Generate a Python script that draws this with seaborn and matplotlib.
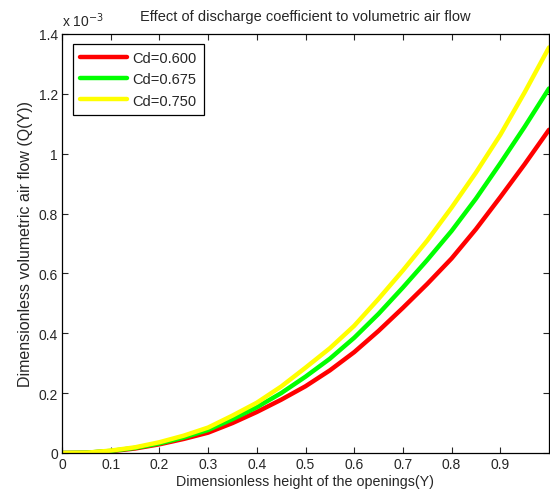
import numpy as np
import pandas as pd
import matplotlib
matplotlib.use("Agg")
import matplotlib.pyplot as plt
import seaborn as sns

# values, Q in units of 1e-3
height_y = [0, 0.05, 0.1, 0.15, 0.2, 0.25, 0.3, 0.35, 0.4, 0.45, 0.5,
            0.55, 0.6, 0.65, 0.7, 0.75, 0.8, 0.85, 0.9, 0.95, 1.0]
q_cd_600 = [0, 0.001, 0.006, 0.015, 0.029, 0.047, 0.068, 0.100, 0.137, 0.178, 0.223,
            0.276, 0.337, 0.408, 0.485, 0.565, 0.650, 0.748, 0.855, 0.965, 1.080]
q_cd_675 = [0, 0.001, 0.007, 0.017, 0.032, 0.052, 0.077, 0.113, 0.153, 0.200, 0.255,
            0.315, 0.385, 0.465, 0.553, 0.645, 0.742, 0.850, 0.968, 1.090, 1.218]
q_cd_750 = [0, 0.001, 0.008, 0.019, 0.036, 0.058, 0.085, 0.125, 0.168, 0.222, 0.285,
            0.350, 0.425, 0.515, 0.610, 0.710, 0.820, 0.937, 1.063, 1.205, 1.355]
series_names = ["Cd=0.600", "Cd=0.675", "Cd=0.750"]
x_ticks = [0, 0.1, 0.2, 0.3, 0.4, 0.5, 0.6, 0.7, 0.8, 0.9]
x_tick_labels = ["0", "0.1", "0.2", "0.3", "0.4", "0.5", "0.6", "0.7", "0.8", "0.9"]
y_ticks = [0, 0.2, 0.4, 0.6, 0.8, 1.0, 1.2, 1.4]
y_tick_labels = ["0", "0.2", "0.4", "0.6", "0.8", "1", "1.2", "1.4"]

df = pd.DataFrame({
    "Y": height_y * 3,
    "Q": q_cd_600 + q_cd_675 + q_cd_750,
    "Cd": np.repeat(series_names, len(height_y)),
})

sns.set_style("white")
plt.rcParams["font.family"] = ["Liberation Sans", "DejaVu Sans"]

fig = plt.figure(figsize=(5.5, 5.02), dpi=100)
ax = fig.add_axes([62 / 550, 48 / 502, 487 / 550, 419 / 502])

sns.lineplot(data=df, x="Y", y="Q", hue="Cd", ax=ax, linewidth=3.2,
             palette=["#ff0000", "#00ff00", "#ffff00"], legend=True)

ax.set_xlim(0, 1)
ax.set_ylim(0, 1.4)
ax.set_xticks(x_ticks)
ax.set_xticklabels(x_tick_labels, fontsize=10)
ax.set_yticks(y_ticks)
ax.set_yticklabels(y_tick_labels, fontsize=10)
ax.tick_params(direction="in", length=4, width=0.8, top=True, right=True,
               bottom=True, left=True, pad=3)
for s in ax.spines.values():
    s.set_color("black")
    s.set_linewidth(0.9)

ax.set_xlabel("Dimensionless height of the openings(Y)", fontsize=10.3, labelpad=2)
ax.set_ylabel("Dimensionless volumetric air flow (Q(Y))", fontsize=11.5, labelpad=4)
ax.set_title("Effect of discharge coefficient to volumetric air flow", fontsize=10.5, pad=10)
ax.text(0.0, 1.012, "x 10$^{-3}$", transform=ax.transAxes, fontsize=10,
        ha="left", va="bottom")

leg = ax.legend(loc="upper left", bbox_to_anchor=(0.022, 0.977), fontsize=10.5,
                frameon=True, fancybox=False, edgecolor="black", framealpha=1,
                handlelength=3.2, borderpad=0.5, labelspacing=0.5, handletextpad=0.4,
                borderaxespad=0)
leg.get_frame().set_linewidth(0.9)
for line in leg.get_lines():
    line.set_linewidth(3.2)

fig.savefig("out.png", dpi=100)
